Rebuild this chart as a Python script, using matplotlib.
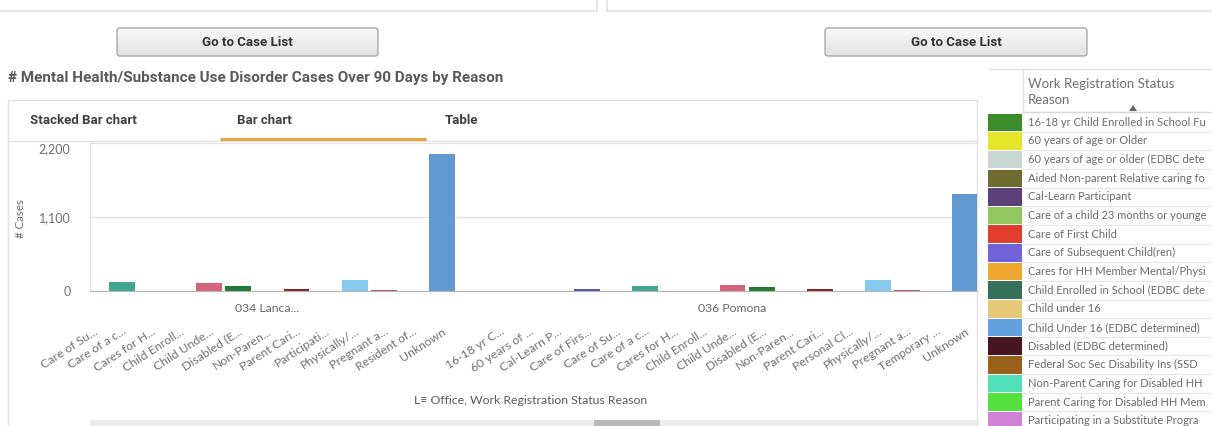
import matplotlib
matplotlib.use("Agg")
import matplotlib.pyplot as plt
import numpy as np
from matplotlib.patches import Rectangle, FancyBboxPatch, Polygon
from matplotlib.transforms import blended_transform_factory

# ---------------- data ----------------
offices = ["034 Lanca...", "036 Pomona"]
lancaster_reasons = ["Care of Su...", "Care of a c...", "Cares for H...", "Child Enroll...",
                     "Child Unde...", "Disabled (E...", "Non-Paren...", "Parent Cari...",
                     "Participati...", "Physically/...", "Pregnant a...", "Resident of...",
                     "Unknown"]
lancaster_values = [2, 133, 2, 4, 123, 78, 2, 30, 2, 158, 15, 2, 2040]
pomona_reasons = ["16-18 yr C...", "60 years of ...", "Cal-Learn P...", "Care of Firs...",
                  "Care of Su...", "Care of a c...", "Cares for H...", "Child Enroll...",
                  "Child Unde...", "Disabled (E...", "Non-Paren...", "Parent Cari...",
                  "Personal Cl...", "Physically/...", "Pregnant a...", "Temporary ...",
                  "Unknown"]
pomona_values = [2, 2, 2, 25, 4, 74, 2, 4, 86, 59, 4, 30, 2, 163, 15, 2, 1436]

reason_colors = {
    "Care of Su...": "#c592b4", "Care of a c...": "#40a68f", "Cares for H...": "#e3a53e",
    "Child Enroll...": "#d3d062", "Child Unde...": "#d5627b", "Disabled (E...": "#1d7b35",
    "Non-Paren...": "#c88fab", "Parent Cari...": "#8c2424", "Participati...": "#b484c8",
    "Physically/...": "#86c9ee", "Pregnant a...": "#c4537b", "Resident of...": "#a0a0a0",
    "Unknown": "#6399d1", "16-18 yr C...": "#3a8c2a", "60 years of ...": "#e6e62a",
    "Cal-Learn P...": "#5b3f7a", "Care of Firs...": "#5454b6", "Personal Cl...": "#909090",
    "Temporary ...": "#b0b0b0",
}

y_ticks = [0, 1100, 2200]
y_tick_labels = ["0", "1,100", "2,200"]

# legend entries as visible in the (truncated) legend panel
legend_labels = ["16-18 yr Child Enrolled in School Fu",
                 "60 years of age or Older",
                 "60 years of age or older (EDBC dete",
                 "Aided Non-parent Relative caring fo",
                 "Cal-Learn Participant",
                 "Care of a child 23 months or younge",
                 "Care of First Child",
                 "Care of Subsequent Child(ren)",
                 "Cares for HH Member Mental/Physi",
                 "Child Enrolled in School (EDBC dete",
                 "Child under 16",
                 "Child Under 16 (EDBC determined)",
                 "Disabled (EDBC determined)",
                 "Federal Soc Sec Disability Ins (SSD",
                 "Non-Parent Caring for Disabled HH",
                 "Parent Caring for Disabled HH Mem",
                 "Participating in a Substitute Progra"]
legend_colors = ["#3b8c2b", "#e5e52c", "#c9d7d3", "#6e6c31", "#5c4079", "#92c75f",
                 "#e13d2d", "#7162d8", "#f0a831", "#35705b", "#e6c879", "#62a1df",
                 "#4a1522", "#9a611a", "#52e0b9", "#55e03f", "#d082d6"]

# ---------------- figure ----------------
W, H = 1212, 426
fig = plt.figure(figsize=(W / 100, H / 100), dpi=100)
fig.patch.set_facecolor("white")

BODY = ["Lato", "DejaVu Sans"]
NARROW = ["Liberation Sans Narrow", "Roboto", "DejaVu Sans"]

bg = fig.add_axes([0, 0, 1, 1])
bg.set_xlim(0, W)
bg.set_ylim(H, 0)
bg.axis("off")

line_c = "#e2e2e2"
# top panel borders
bg.plot([0, 597], [11, 11], color=line_c, lw=1.2)
bg.plot([597, 597], [0, 11], color=line_c, lw=1.2)
bg.plot([607, 1212], [11, 11], color=line_c, lw=1.2)
bg.plot([607, 607], [0, 11], color=line_c, lw=1.2)

# buttons
grad = np.linspace(0, 1, 50).reshape(-1, 1)
cmap_btn = matplotlib.colors.LinearSegmentedColormap.from_list("g", ["#f8f8f8", "#e2e2e2"])
for x0, x1 in [(117, 378), (825, 1087)]:
    bg.imshow(grad, extent=(x0, x1, 56, 28), cmap=cmap_btn, aspect="auto", zorder=1)
    bg.add_patch(FancyBboxPatch((x0, 28), x1 - x0, 28, boxstyle="round,pad=0,rounding_size=3",
                                fc="none", ec="#a8a8a8", lw=1, zorder=2))
    bg.text((x0 + x1) / 2, 43, "Go to Case List", ha="center", va="center", fontsize=9.5,
            fontweight="bold", color="#333333", family=NARROW, zorder=3)
bg.set_xlim(0, W)
bg.set_ylim(H, 0)

# title
bg.text(8, 78, "# Mental Health/Substance Use Disorder Cases Over 90 Days by Reason",
        ha="left", va="center", fontsize=11, fontweight="bold", color="#595959", family=NARROW)

# chart panel
bg.add_patch(Rectangle((8, 100), 969, 340, fc="none", ec=line_c, lw=1))
bg.plot([8, 977], [141, 141], color=line_c, lw=1)
bg.plot([220, 426], [138.5, 138.5], color="#e9a33a", lw=2.2, solid_capstyle="butt")
for tx, lab in [(30, "Stacked Bar chart"), (237, "Bar chart"), (445, "Table")]:
    bg.text(tx, 121, lab, ha="left", va="center", fontsize=9.5, fontweight="bold",
            color="#404040", family=NARROW)

# y-axis title
bg.text(21, 218, "# Cases", rotation=90, ha="center", va="center", fontsize=8.3,
        color="#6b6b6b", family=BODY)

# x-axis title
bg.text(531, 400, "L\u2261 Office, Work Registration Status Reason", ha="center", va="center",
        fontsize=8.8, color="#595959", family=BODY)

# scrollbar
bg.add_patch(Rectangle((90, 420), 887, 8, fc="#ececec", ec="none"))
bg.add_patch(Rectangle((594, 420), 66, 8, fc="#b9b9b9", ec="none"))

# legend panel
bg.plot([990, 1212], [69, 69], color=line_c, lw=1)
bg.plot([1023, 1023], [69, 112], color=line_c, lw=1)
bg.plot([1023, 1212], [112, 112], color="#d8d8d8", lw=1)
bg.text(1028, 84, "Work Registration Status", ha="left", va="center", fontsize=9.5,
        color="#707070", family=BODY)
bg.text(1028, 100, "Reason", ha="left", va="center", fontsize=9.5, color="#707070", family=BODY)
bg.add_patch(Polygon([[1129, 111], [1137, 111], [1133, 105]], closed=True, fc="#666666", ec="none"))
row_h = 18.65
for i, (lab, col) in enumerate(zip(legend_labels, legend_colors)):
    top = 113 + i * row_h
    bg.add_patch(Rectangle((988, top + 0.6), 34, row_h - 1.2, fc=col, ec="none"))
    bg.plot([1023, 1212], [top + row_h, top + row_h], color="#e8e8e8", lw=0.8)
    bg.text(1028, top + row_h / 2, lab, ha="left", va="center", fontsize=8.0,
            color="#6a6a6a", family=BODY)

# ---------------- chart axes ----------------
ax = fig.add_axes([90 / W, 1 - 291 / H, (977 - 90) / W, (291 - 143) / H])
ax.patch.set_alpha(0)

step_gap = 2
lan_pos = np.arange(len(lancaster_reasons))
pom_pos = np.arange(len(pomona_reasons)) + len(lancaster_reasons) - 1 + step_gap
positions = np.concatenate([lan_pos, pom_pos])
labels = lancaster_reasons + pomona_reasons
values = lancaster_values + pomona_values
colors = [reason_colors[r] for r in labels]

ax.bar(positions, values, width=0.89, color=colors, zorder=3)
ax.set_xlim(-0.103, 30.41)
ax.set_ylim(0, 2200)

for s in ["top", "right"]:
    ax.spines[s].set_visible(False)
ax.spines["left"].set_color("#dcdcdc")
ax.spines["bottom"].set_color("#b5b5b5")
ax.spines["bottom"].set_zorder(4)
ax.set_yticks(y_ticks, y_tick_labels)
ax.tick_params(axis="y", length=0, pad=14, labelsize=9, labelcolor="#6e6e6e")
for lab in ax.get_yticklabels():
    lab.set_family(BODY)
ax.yaxis.get_major_ticks()[-1].label1.set_verticalalignment("top")
ax.grid(axis="y", color="#e2e2e2", lw=1, zorder=0)

ax.set_xticks(positions, labels)
ax.tick_params(axis="x", length=0, pad=25, labelsize=8.8, labelcolor="#707070")
for lab in ax.get_xticklabels():
    lab.set_rotation(33)
    lab.set_ha("right")
    lab.set_rotation_mode("anchor")
    lab.set_family(BODY)

trans = blended_transform_factory(ax.transData, ax.transAxes)
for name, pos in zip(offices, [lan_pos, pom_pos]):
    ax.text(pos.mean(), -0.115, name, transform=trans, ha="center", va="center",
            fontsize=8.8, color="#666666", family=BODY)

fig.savefig("out.png", dpi=100, facecolor="white")
